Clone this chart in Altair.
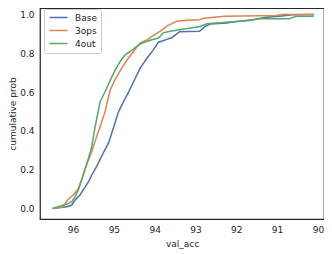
import altair as alt
import pandas as pd

series_names = ["Base", "3ops", "4out"]
series_colors = ["#4C72B0", "#DD8452", "#55A868"]

base_x = [96.50, 96.30, 96.15, 96.03, 95.95, 95.83, 95.75, 95.62, 95.54, 95.42,
          95.34, 95.26, 95.13, 95.01, 94.89, 94.77, 94.64, 94.52, 94.36, 94.19,
          94.03, 93.91, 93.79, 93.66, 93.58, 93.39, 92.90, 92.76, 92.64, 92.23,
          92.09, 91.60, 91.27, 90.94, 90.62, 90.10]
base_y = [0.0, 0.005, 0.009, 0.018, 0.044, 0.070, 0.096, 0.139, 0.174, 0.217,
          0.252, 0.286, 0.338, 0.416, 0.496, 0.548, 0.600, 0.652, 0.722, 0.774,
          0.817, 0.857, 0.864, 0.875, 0.880, 0.911, 0.913, 0.938, 0.950, 0.956,
          0.961, 0.973, 0.985, 0.991, 0.998, 1.0]

ops3_x = [96.50, 96.24, 96.15, 96.07, 95.99, 95.87, 95.79, 95.71, 95.62, 95.54,
          95.46, 95.34, 95.22, 95.09, 94.97, 94.81, 94.68, 94.52, 94.36, 94.19,
          94.03, 93.87, 93.70, 93.46, 93.21, 92.89, 92.80, 92.48, 92.29, 91.02,
          90.90, 90.10]
ops3_y = [0.0, 0.009, 0.040, 0.057, 0.070, 0.104, 0.148, 0.200, 0.252, 0.295,
          0.347, 0.420, 0.496, 0.610, 0.665, 0.722, 0.765, 0.809, 0.852, 0.869,
          0.892, 0.913, 0.940, 0.965, 0.970, 0.973, 0.980, 0.987, 0.991, 0.994,
          1.0, 1.0]

out4_x = [96.50, 96.15, 96.03, 95.95, 95.87, 95.79, 95.71, 95.62, 95.54, 95.46,
          95.34, 95.22, 95.09, 94.97, 94.85, 94.73, 94.60, 94.44, 94.28, 94.07,
          93.91, 93.79, 93.62, 92.89, 92.72, 91.91, 91.68, 91.43, 90.70, 90.53,
          90.10]
out4_y = [0.0, 0.023, 0.035, 0.061, 0.096, 0.148, 0.200, 0.260, 0.320, 0.420,
          0.548, 0.600, 0.660, 0.713, 0.756, 0.790, 0.809, 0.835, 0.855, 0.869,
          0.878, 0.905, 0.913, 0.938, 0.952, 0.965, 0.968, 0.978, 0.978, 0.991,
          0.991]

x_ticks = [96, 95, 94, 93, 92, 91, 90]
y_ticks = [0.0, 0.2, 0.4, 0.6, 0.8, 1.0]

rows = []
for name, xs, ys in [("Base", base_x, base_y), ("3ops", ops3_x, ops3_y), ("4out", out4_x, out4_y)]:
    for i, (x, y) in enumerate(zip(xs, ys)):
        rows.append({"model": name, "val_acc": x, "prob": y, "order": i})
df = pd.DataFrame(rows)

FONT = "DejaVu Sans"
TXT = "#262626"

chart = alt.Chart(df).mark_line(strokeWidth=1.5).encode(
    x=alt.X("val_acc:Q",
            scale=alt.Scale(domain=[89.85, 96.81], reverse=True, nice=False, zero=False),
            axis=alt.Axis(values=x_ticks, format="d", title="val_acc",
                          labelPadding=6, titlePadding=5)),
    y=alt.Y("prob:Q",
            scale=alt.Scale(domain=[-0.054, 1.033], nice=False, zero=False),
            axis=alt.Axis(values=y_ticks, format=".1f", title="cumulative prob",
                          labelPadding=6, titlePadding=2)),
    color=alt.Color("model:N",
                    scale=alt.Scale(domain=series_names, range=series_colors),
                    legend=alt.Legend(title=None, orient="none", legendX=4, legendY=1,
                                      fillColor="white", strokeColor="#cccccc",
                                      cornerRadius=2, padding=4,
                                      symbolType="M-3,0H3", symbolSize=36,
                                      symbolStrokeWidth=1.5, symbolOffset=6,
                                      labelOffset=12, rowPadding=3,
                                      labelFont=FONT, labelFontSize=9,
                                      labelColor=TXT)),
    order="order:Q",
).properties(
    width=284, height=211,
    autosize=alt.AutoSizeParams(type="none"),
    padding={"left": 32, "top": 0, "right": 0, "bottom": 34},
).configure_view(
    stroke=TXT, strokeWidth=1.25
).configure_axis(
    domain=False, ticks=False, grid=False,
    labelFont=FONT, labelFontSize=9, labelColor=TXT,
    titleFont=FONT, titleFontSize=9, titleFontWeight="normal", titleColor=TXT,
)

chart.save("out.html", embed_options={"renderer": "svg", "actions": False})
